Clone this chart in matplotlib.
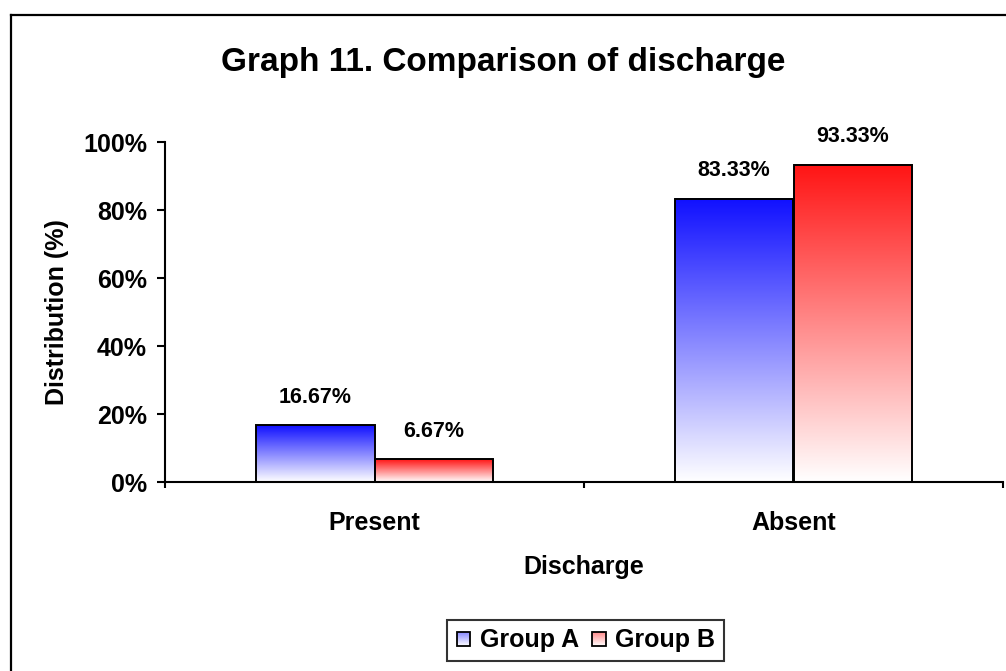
import matplotlib
matplotlib.use("Agg")
import matplotlib.pyplot as plt
import numpy as np
from matplotlib.patches import Rectangle
from matplotlib.legend_handler import HandlerBase
from matplotlib.colors import LinearSegmentedColormap, to_rgb
from matplotlib.lines import Line2D

# Data
categories = ["Present", "Absent"]
groups = ["Group A", "Group B"]
group_a = [16.67, 83.33]
group_b = [6.67, 93.33]
y_ticks = [0, 20, 40, 60, 80, 100]
y_tick_labels = ["0%", "20%", "40%", "60%", "80%", "100%"]
title = "Graph 11. Comparison of discharge"
x_label = "Discharge"
y_label = "Distribution (%)"

top_colors = ["#1010ff", "#ff1414"]

plt.rcParams["font.family"] = ["Liberation Sans", "DejaVu Sans"]
plt.rcParams["font.weight"] = "bold"

W, H = 1006, 671
fig = plt.figure(figsize=(W / 100, H / 100), dpi=100)
ax = fig.add_axes([165 / W, 1 - 482 / H, (1003 - 165) / W, 340 / H])

x = np.arange(len(categories))
bw = 0.284
series = [group_a, group_b]
offsets = [-bw / 2, bw / 2]

grad = np.linspace(0, 1, 256).reshape(-1, 1)
for vals, off, col in zip(series, offsets, top_colors):
    cmap = LinearSegmentedColormap.from_list("g", ["#ffffff", col])
    bars = ax.bar(x + off, vals, bw, facecolor="none", edgecolor="black",
                  linewidth=1.4, zorder=3)
    for b, v in zip(bars, vals):
        x0, y0 = b.get_x(), b.get_y()
        ax.imshow(grad, extent=[x0, x0 + b.get_width(), y0, y0 + b.get_height()],
                  origin="lower", aspect="auto", cmap=cmap, vmin=0, vmax=1,
                  zorder=2, interpolation="bilinear")
        ax.annotate(f"{v:.2f}%", (b.get_x() + b.get_width() / 2, b.get_height()),
                    xytext=(0, 20), textcoords="offset points",
                    ha="center", va="center", fontsize=15.5, fontweight="bold")

ax.set_xlim(-0.5, 1.5)
ax.set_ylim(0, 100)

for s in ["top", "right"]:
    ax.spines[s].set_visible(False)
for s in ["left", "bottom"]:
    ax.spines[s].set_linewidth(1.5)

ax.set_yticks(y_ticks)
ax.set_yticklabels(y_tick_labels)
ax.tick_params(axis="y", direction="out", length=6, width=1.5, pad=7,
               labelsize=18)
ax.set_xticks(x)
ax.set_xticklabels(categories)
ax.tick_params(axis="x", which="major", length=0, pad=21, labelsize=18)
ax.set_xticks([-0.5, 0.5, 1.5], minor=True)
ax.tick_params(axis="x", which="minor", direction="out", length=4, width=1.5)

ax.set_xlabel(x_label, fontsize=18, fontweight="bold")
ax.xaxis.label.set_va("center")
ax.xaxis.set_label_coords(0.5, (482 - 567) / 340)
ax.set_ylabel(y_label, fontsize=18, fontweight="bold")
ax.yaxis.label.set_va("center")
ax.yaxis.set_label_coords((57 - 165) / 838, 0.5)

fig.text(0.5, 1 - 62 / H, title, ha="center", va="center",
         fontsize=24, fontweight="bold")


class GradientHandler(HandlerBase):
    def __init__(self, color, **kw):
        super().__init__(**kw)
        self.color = np.array(to_rgb(color))

    def create_artists(self, legend, orig_handle, xdescent, ydescent,
                       width, height, fontsize, trans):
        side = 0.55 * fontsize
        x0 = -xdescent + (width - side) / 2
        y0 = -ydescent + (height - side) / 2
        n = 14
        arts = []
        for i in range(n):
            f = (i + 0.5) / n
            c = np.ones(3) * (1 - f) + (0.5 + 0.5 * self.color) * f
            arts.append(Rectangle((x0, y0 + side * i / n), side, side / n,
                                  facecolor=c, edgecolor="none", transform=trans))
        arts.append(Rectangle((x0, y0), side, side, facecolor="none",
                              edgecolor="black", linewidth=1.3, transform=trans))
        return arts


handles = [Rectangle((0, 0), 1, 1) for _ in groups]
leg = fig.legend(handles, groups, loc="center",
                 bbox_to_anchor=(585.5 / W, 1 - 640.5 / H), ncol=2,
                 fontsize=18, frameon=True, fancybox=False, shadow=False,
                 handlelength=0.6, handletextpad=0.35, columnspacing=0.5,
                 borderpad=0.35,
                 handler_map={h: GradientHandler(c) for h, c in zip(handles, top_colors)})
leg.get_frame().set_edgecolor("black")
leg.get_frame().set_linewidth(1.5)

# Outer chart border (top and left edges)
fig.add_artist(Line2D([11 / W, 11 / W], [0, 1 - 15 / H], transform=fig.transFigure,
                      color="black", linewidth=1.6))
fig.add_artist(Line2D([11 / W, 1], [1 - 15 / H, 1 - 15 / H], transform=fig.transFigure,
                      color="black", linewidth=1.6))

fig.savefig("out.png", dpi=100, facecolor="white")
